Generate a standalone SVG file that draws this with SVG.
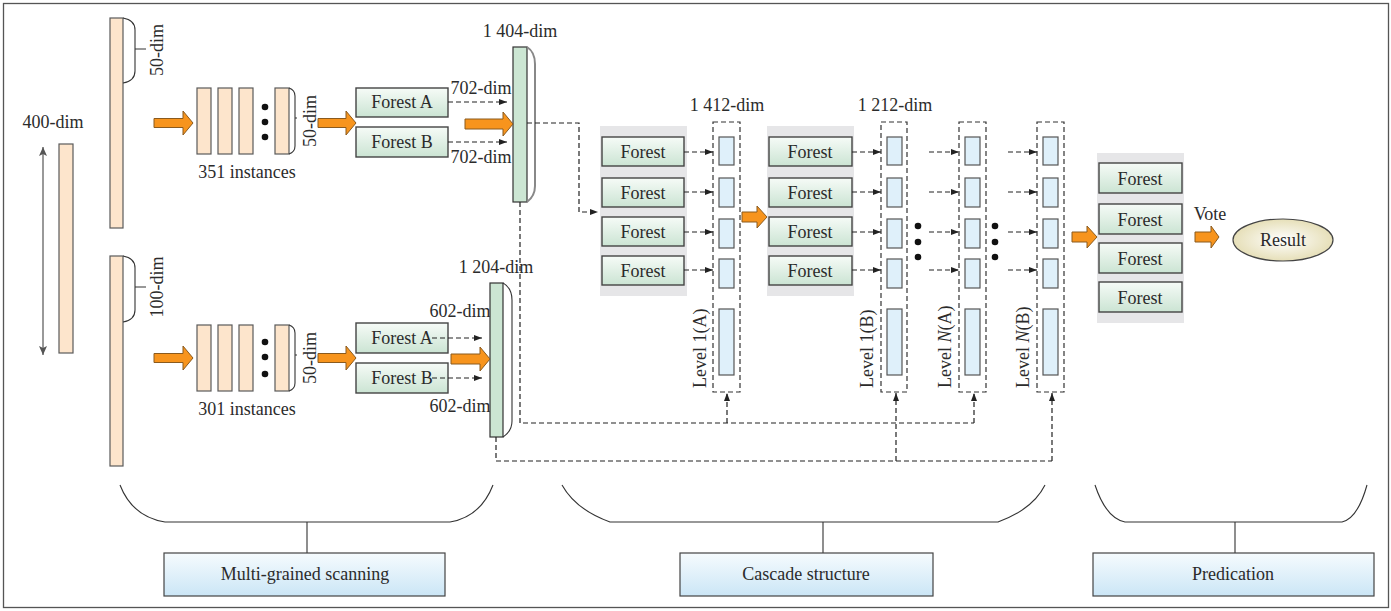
<svg xmlns="http://www.w3.org/2000/svg" width="1391" height="611" viewBox="0 0 1391 611" font-family="'Liberation Serif', 'DejaVu Serif', serif">
<defs>
<linearGradient id="gForest" x1="0" y1="0" x2="0" y2="1"><stop offset="0" stop-color="#f6fbf7"/><stop offset="1" stop-color="#cbe4d3"/></linearGradient>
<linearGradient id="gStage" x1="0" y1="0" x2="0" y2="1"><stop offset="0" stop-color="#f6fbfe"/><stop offset="1" stop-color="#cbe6f6"/></linearGradient>
<radialGradient id="gResult" cx="0.5" cy="0.5" r="0.5"><stop offset="0" stop-color="#ffffff"/><stop offset="1" stop-color="#e6dfb8"/></radialGradient>
<marker id="ah" markerWidth="8" markerHeight="6" refX="8" refY="3" orient="auto" markerUnits="userSpaceOnUse"><path d="M0,0 L8,3 L0,6 Z" fill="#222"/></marker>
<marker id="ahg" markerWidth="9" markerHeight="8" refX="9" refY="4" orient="auto-start-reverse" markerUnits="userSpaceOnUse"><path d="M0,0 L9,4 L0,8 L2,4 Z" fill="#555"/></marker>
</defs>
<style>
text{font-family:"Liberation Serif","DejaVu Serif",serif;font-size:18px;fill:#2b2b2b}
.mid{text-anchor:middle}
.peach{fill:#fde5cc;stroke:#5a5a5a;stroke-width:1.2}
.gbar{fill:#cce6d3;stroke:#333;stroke-width:1.2}
.forest{fill:url(#gForest);stroke:#444;stroke-width:1.4}
.panel{fill:#e6e6e8}
.cell{fill:#dff0fa;stroke:#555;stroke-width:1.2}
.lvl{fill:none;stroke:#333;stroke-width:1.2;stroke-dasharray:5 3}
.dash{fill:none;stroke:#222;stroke-width:1.2;stroke-dasharray:5 3}
.arr{fill:#f7941d;stroke:#8a5a1e;stroke-width:1}
.brk{fill:none;stroke:#333;stroke-width:1.1}
.stage{fill:url(#gStage);stroke:#444;stroke-width:1.2}
.dot{fill:#111}
</style>
<rect x="3.5" y="3.5" width="1385" height="604" fill="#fff" stroke="#555" stroke-width="1.3"/>

<g id="input">
<rect class="peach" x="59" y="144" width="14" height="209"/>
<line x1="43" y1="147" x2="43" y2="355" stroke="#555" stroke-width="1.2" marker-start="url(#ahg)" marker-end="url(#ahg)"/>
<text class="mid" x="53" y="128">400-dim</text>
</g>

<g id="scan-top">
<rect class="peach" x="110" y="18" width="13" height="210"/>
<path class="brk" d="M123,18 Q135,20 135,30 V71 Q135,81 123,83 M135,49 H146"/>
<text class="mid" transform="translate(163,50) rotate(-90)">50-dim</text>
</g>

<g id="scan-bottom">
<rect class="peach" x="110" y="256" width="13" height="210"/>
<path class="brk" d="M123,256 Q135,258 135,268 V310 Q135,320 123,322 M135,287 H146"/>
<text class="mid" transform="translate(163,287) rotate(-90)">100-dim</text>
</g>

<g id="instances-top">
<rect class="peach" x="197" y="88" width="14" height="66"/>
<rect class="peach" x="218" y="88" width="14" height="66"/>
<rect class="peach" x="239" y="88" width="14" height="66"/>
<rect class="peach" x="275" y="88" width="14" height="66"/>
<circle class="dot" cx="265" cy="107" r="3.3"/><circle class="dot" cx="265" cy="122" r="3.3"/><circle class="dot" cx="265" cy="137" r="3.3"/>
<path class="brk" d="M289,88 Q295,90 295,96 V146 Q295,152 289,154 M295,118 H297"/>
<text class="mid" transform="translate(316,121) rotate(-90)">50-dim</text>
<text class="mid" x="247" y="178">351 instances</text>
</g>

<g id="instances-bottom">
<rect class="peach" x="197" y="325" width="14" height="66"/>
<rect class="peach" x="218" y="325" width="14" height="66"/>
<rect class="peach" x="239" y="325" width="14" height="66"/>
<rect class="peach" x="275" y="325" width="14" height="66"/>
<circle class="dot" cx="265" cy="342" r="3.3"/><circle class="dot" cx="265" cy="357" r="3.3"/><circle class="dot" cx="265" cy="374" r="3.3"/>
<path class="brk" d="M289,325 Q295,327 295,333 V383 Q295,389 289,391 M295,355 H297"/>
<text class="mid" transform="translate(316,358) rotate(-90)">50-dim</text>
<text class="mid" x="247" y="415">301 instances</text>
</g>

<g id="forests-top">
<rect class="forest" x="356" y="88" width="92" height="29"/>
<text class="mid" x="402" y="108">Forest A</text>
<rect class="forest" x="356" y="127" width="92" height="30"/>
<text class="mid" x="402" y="148">Forest B</text>
<text class="mid" x="481" y="94">702-dim</text>
<text class="mid" x="481" y="163">702-dim</text>
</g>

<g id="forests-bottom">
<rect class="forest" x="356" y="323" width="92" height="30"/>
<text class="mid" x="402" y="344">Forest A</text>
<rect class="forest" x="356" y="363" width="92" height="30"/>
<text class="mid" x="402" y="384">Forest B</text>
<text class="mid" x="460" y="317">602-dim</text>
<text class="mid" x="460" y="412">602-dim</text>
</g>

<g id="concat-top">
<rect class="gbar" x="513" y="47" width="14" height="155"/>
<path d="M527,47 Q535,52 535,64 V186 Q535,196 527,202" fill="none" stroke="#888" stroke-width="2"/>
<text class="mid" x="520" y="37">1 404-dim</text>
</g>

<g id="concat-bottom">
<rect class="gbar" x="490" y="283" width="13" height="154"/>
<path class="brk" d="M503,283 Q512,288 512,300 V421 Q512,431 503,437"/>
<text class="mid" x="496" y="273">1 204-dim</text>
</g>

<g id="cascade-1">
<rect class="panel" x="600" y="126" width="87" height="170"/>
<rect class="forest" x="602" y="137" width="82" height="29"/><text class="mid" x="643" y="158">Forest</text>
<rect class="forest" x="602" y="178" width="82" height="29"/><text class="mid" x="643" y="199">Forest</text>
<rect class="forest" x="602" y="217" width="82" height="29"/><text class="mid" x="643" y="238">Forest</text>
<rect class="forest" x="602" y="256" width="82" height="29"/><text class="mid" x="643" y="277">Forest</text>
</g>

<g id="level-1a">
<rect class="lvl" x="713" y="122" width="27" height="270"/>
<rect class="cell" x="719" y="137" width="15" height="28"/>
<rect class="cell" x="719" y="178" width="15" height="29"/>
<rect class="cell" x="719" y="219" width="15" height="29"/>
<rect class="cell" x="719" y="259" width="15" height="29"/>
<rect class="cell" x="719" y="309" width="15" height="66"/>
<text transform="translate(706,388) rotate(-90)">Level 1(A)</text>
<text class="mid" x="727" y="111">1 412-dim</text>
</g>

<g id="cascade-2">
<rect class="panel" x="767" y="126" width="87" height="170"/>
<rect class="forest" x="769" y="137" width="83" height="29"/><text class="mid" x="810" y="158">Forest</text>
<rect class="forest" x="769" y="178" width="83" height="29"/><text class="mid" x="810" y="199">Forest</text>
<rect class="forest" x="769" y="217" width="83" height="29"/><text class="mid" x="810" y="238">Forest</text>
<rect class="forest" x="769" y="256" width="83" height="29"/><text class="mid" x="810" y="277">Forest</text>
</g>

<g id="level-1b">
<rect class="lvl" x="881" y="122" width="26" height="270"/>
<rect class="cell" x="887" y="137" width="15" height="28"/>
<rect class="cell" x="887" y="178" width="15" height="29"/>
<rect class="cell" x="887" y="219" width="15" height="29"/>
<rect class="cell" x="887" y="259" width="15" height="29"/>
<rect class="cell" x="887" y="309" width="15" height="66"/>
<text transform="translate(873,388) rotate(-90)">Level 1(B)</text>
<text class="mid" x="895" y="111">1 212-dim</text>
<circle class="dot" cx="918" cy="226" r="3.3"/><circle class="dot" cx="918" cy="242" r="3.3"/><circle class="dot" cx="918" cy="257" r="3.3"/>
</g>

<g id="level-na">
<rect class="lvl" x="959" y="122" width="27" height="270"/>
<rect class="cell" x="965" y="137" width="15" height="28"/>
<rect class="cell" x="965" y="178" width="15" height="29"/>
<rect class="cell" x="965" y="219" width="15" height="29"/>
<rect class="cell" x="965" y="259" width="15" height="29"/>
<rect class="cell" x="965" y="309" width="15" height="66"/>
<text transform="translate(951,388) rotate(-90)">Level <tspan font-style="italic">N</tspan>(A)</text>
<circle class="dot" cx="995" cy="226" r="3.3"/><circle class="dot" cx="995" cy="242" r="3.3"/><circle class="dot" cx="995" cy="257" r="3.3"/>
</g>

<g id="level-nb">
<rect class="lvl" x="1037" y="122" width="27" height="270"/>
<rect class="cell" x="1043" y="137" width="15" height="28"/>
<rect class="cell" x="1043" y="178" width="15" height="29"/>
<rect class="cell" x="1043" y="219" width="15" height="29"/>
<rect class="cell" x="1043" y="259" width="15" height="29"/>
<rect class="cell" x="1043" y="309" width="15" height="66"/>
<text transform="translate(1029,388) rotate(-90)">Level <tspan font-style="italic">N</tspan>(B)</text>
</g>

<g id="predict">
<rect class="panel" x="1097" y="153" width="87" height="170"/>
<rect class="forest" x="1099" y="163" width="83" height="30"/><text class="mid" x="1140" y="185">Forest</text>
<rect class="forest" x="1099" y="204" width="83" height="30"/><text class="mid" x="1140" y="226">Forest</text>
<rect class="forest" x="1099" y="243" width="83" height="30"/><text class="mid" x="1140" y="265">Forest</text>
<rect class="forest" x="1099" y="282" width="83" height="30"/><text class="mid" x="1140" y="304">Forest</text>
<text class="mid" x="1210" y="220">Vote</text>
</g>

<g id="result">
<ellipse cx="1283" cy="240" rx="50" ry="21" fill="url(#gResult)" stroke="#444" stroke-width="1.2"/>
<text class="mid" x="1283" y="246">Result</text>
</g>

<g id="stage-labels">
<path class="brk" d="M120,485 C127,503 140,518 165,522 H450 C474,518 486,503 493,485 M307,522 V553"/>
<rect class="stage" x="164" y="553" width="281" height="43"/>
<text class="mid" x="305" y="580">Multi-grained scanning</text>
<path class="brk" d="M562,485 C572,503 588,514 610,522 H998 C1020,514 1036,503 1045,485 M823,522 V553"/>
<rect class="stage" x="680" y="553" width="253" height="43"/>
<text class="mid" x="806" y="580">Cascade structure</text>
<path class="brk" d="M1095,485 C1101,503 1110,519 1125,522 H1342 C1355,519 1362,503 1367,485 M1235,522 V553"/>
<rect class="stage" x="1093" y="553" width="281" height="43"/>
<text class="mid" x="1233" y="580">Predication</text>
</g>

<g id="connectors">
<path class="arr" d="M154,118.5 H183 V111 L193,123 L183,135 V127.5 H154 Z"/>
<path class="arr" d="M154,353.5 H183 V346 L193,358 L183,370 V362.5 H154 Z"/>
<path class="arr" d="M318,118.5 H346 V111 L356,123 L346,135 V127.5 H318 Z"/>
<path class="arr" d="M318,353.5 H346 V346 L356,358 L346,370 V362.5 H318 Z"/>
<path class="arr" d="M465,119 H503 V112 L513,124 L503,136 V129 H465 Z"/>
<path class="arr" d="M451,354 H480 V347 L490,359 L480,371 V364 H451 Z"/>
<path class="arr" d="M742,212 H757 V206 L767,217 L757,228 V222 H742 Z"/>
<path class="arr" d="M1072,232 H1087 V226 L1097,237 L1087,248 V242 H1072 Z"/>
<path class="arr" d="M1195,232 H1211 V226 L1219,237 L1211,248 V242 H1195 Z"/>

<line class="dash" x1="448" y1="102" x2="507" y2="102" marker-end="url(#ah)"/>
<line class="dash" x1="448" y1="142" x2="507" y2="142" marker-end="url(#ah)"/>
<line class="dash" x1="432" y1="338" x2="482" y2="338" marker-end="url(#ah)"/>
<line class="dash" x1="432" y1="378" x2="482" y2="378" marker-end="url(#ah)"/>
<path class="dash" d="M527,123 H579 V212 H598" marker-end="url(#ah)"/>

<line class="dash" x1="684" y1="152" x2="713" y2="152" marker-end="url(#ah)"/>
<line class="dash" x1="684" y1="192" x2="713" y2="192" marker-end="url(#ah)"/>
<line class="dash" x1="684" y1="232" x2="713" y2="232" marker-end="url(#ah)"/>
<line class="dash" x1="684" y1="270" x2="713" y2="270" marker-end="url(#ah)"/>

<line class="dash" x1="852" y1="152" x2="881" y2="152" marker-end="url(#ah)"/>
<line class="dash" x1="852" y1="192" x2="881" y2="192" marker-end="url(#ah)"/>
<line class="dash" x1="852" y1="232" x2="881" y2="232" marker-end="url(#ah)"/>
<line class="dash" x1="852" y1="270" x2="881" y2="270" marker-end="url(#ah)"/>

<line class="dash" x1="929" y1="152" x2="959" y2="152" marker-end="url(#ah)"/>
<line class="dash" x1="929" y1="192" x2="959" y2="192" marker-end="url(#ah)"/>
<line class="dash" x1="929" y1="232" x2="959" y2="232" marker-end="url(#ah)"/>
<line class="dash" x1="929" y1="270" x2="959" y2="270" marker-end="url(#ah)"/>

<line class="dash" x1="1008" y1="152" x2="1037" y2="152" marker-end="url(#ah)"/>
<line class="dash" x1="1008" y1="192" x2="1037" y2="192" marker-end="url(#ah)"/>
<line class="dash" x1="1008" y1="232" x2="1037" y2="232" marker-end="url(#ah)"/>
<line class="dash" x1="1008" y1="270" x2="1037" y2="270" marker-end="url(#ah)"/>

<path class="dash" d="M520,202 V423 H974"/>
<line class="dash" x1="727" y1="423" x2="727" y2="393" marker-end="url(#ah)"/>
<line class="dash" x1="974" y1="423" x2="974" y2="393" marker-end="url(#ah)"/>
<path class="dash" d="M496,437 V461 H1052"/>
<line class="dash" x1="896" y1="461" x2="896" y2="393" marker-end="url(#ah)"/>
<line class="dash" x1="1052" y1="461" x2="1052" y2="393" marker-end="url(#ah)"/>
</g>
</svg>
